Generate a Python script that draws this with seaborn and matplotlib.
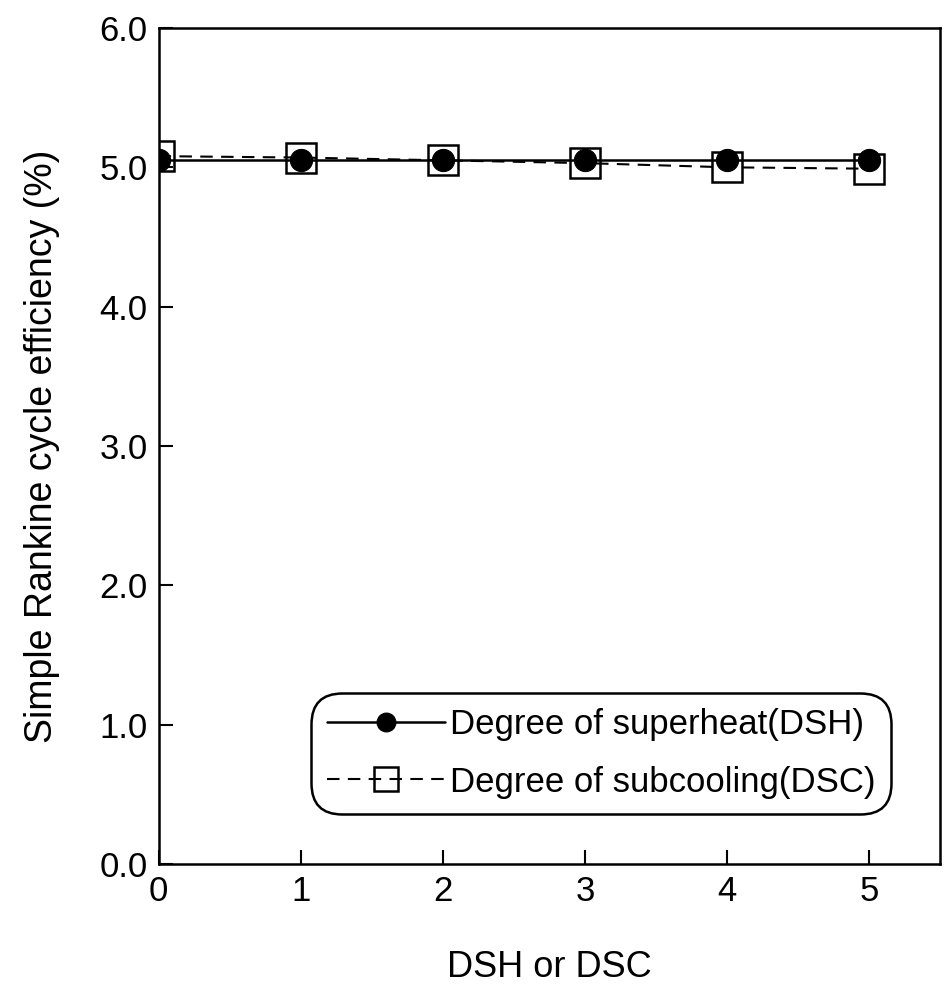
import matplotlib
matplotlib.use("Agg")
import matplotlib.pyplot as plt
import seaborn as sns

x_vals = [0, 1, 2, 3, 4, 5]
dsh_eff = [5.05, 5.05, 5.05, 5.05, 5.05, 5.05]
dsc_eff = [5.08, 5.07, 5.05, 5.03, 5.00, 4.99]
dsh_label = "Degree of superheat(DSH)"
dsc_label = "Degree of subcooling(DSC)"
x_ticks = [0, 1, 2, 3, 4, 5]
y_ticks = [0.0, 1.0, 2.0, 3.0, 4.0, 5.0, 6.0]

sns.set_theme(style="ticks")
plt.rcParams['font.family'] = ['Liberation Sans', 'DejaVu Sans']
plt.rcParams['text.color'] = 'black'
plt.rcParams['axes.labelcolor'] = 'black'

fig = plt.figure(figsize=(9.44, 9.88), dpi=100)
ax = fig.add_axes([0.168, 0.1255, 0.828, 0.8462])

sns.lineplot(x=x_vals, y=dsc_eff, ax=ax, color='black', linewidth=1.5,
             dashes=False, linestyle=(0, (6, 4)), marker='s', markersize=21,
             markerfacecolor='none', markeredgecolor='black', markeredgewidth=1.8,
             label=dsc_label, zorder=3)
sns.lineplot(x=x_vals, y=dsh_eff, ax=ax, color='black', linewidth=1.8,
             marker='o', markersize=16, markerfacecolor='black',
             markeredgecolor='black', label=dsh_label, zorder=4)

ax.set_xlim(0, 5.5)
ax.set_ylim(0, 6)
ax.set_xticks(x_ticks)
ax.set_xticklabels([str(t) for t in x_ticks])
ax.set_yticks(y_ticks)
ax.set_yticklabels([f"{t:.1f}" for t in y_ticks])
ax.tick_params(direction='in', length=10, width=1.5, labelsize=25, pad=8,
               colors='black', labelcolor='black')
for s in ax.spines.values():
    s.set_visible(True)
    s.set_linewidth(1.8)
    s.set_color('black')
ax.set_xlabel("DSH or DSC", fontsize=26, labelpad=30, color='black')
ax.set_ylabel("Simple Rankine cycle efficiency (%)", fontsize=27, labelpad=28, color='black')

handles, labels = ax.get_legend_handles_labels()
order = [labels.index(dsh_label), labels.index(dsc_label)]
leg = ax.legend([handles[i] for i in order], [labels[i] for i in order],
                loc='lower right', bbox_to_anchor=(0.926, 0.07),
                fontsize=25, handlelength=3.4, frameon=True, fancybox=True,
                framealpha=1, edgecolor='black', borderpad=0.2, labelspacing=0.7,
                handletextpad=0.15, markerscale=0.85, borderaxespad=0)
for t in leg.get_texts():
    t.set_color('black')
leg.get_frame().set_linewidth(1.8)
leg.get_frame().set_boxstyle('round', pad=0.25, rounding_size=0.9)

fig.savefig("out.png", dpi=100)
